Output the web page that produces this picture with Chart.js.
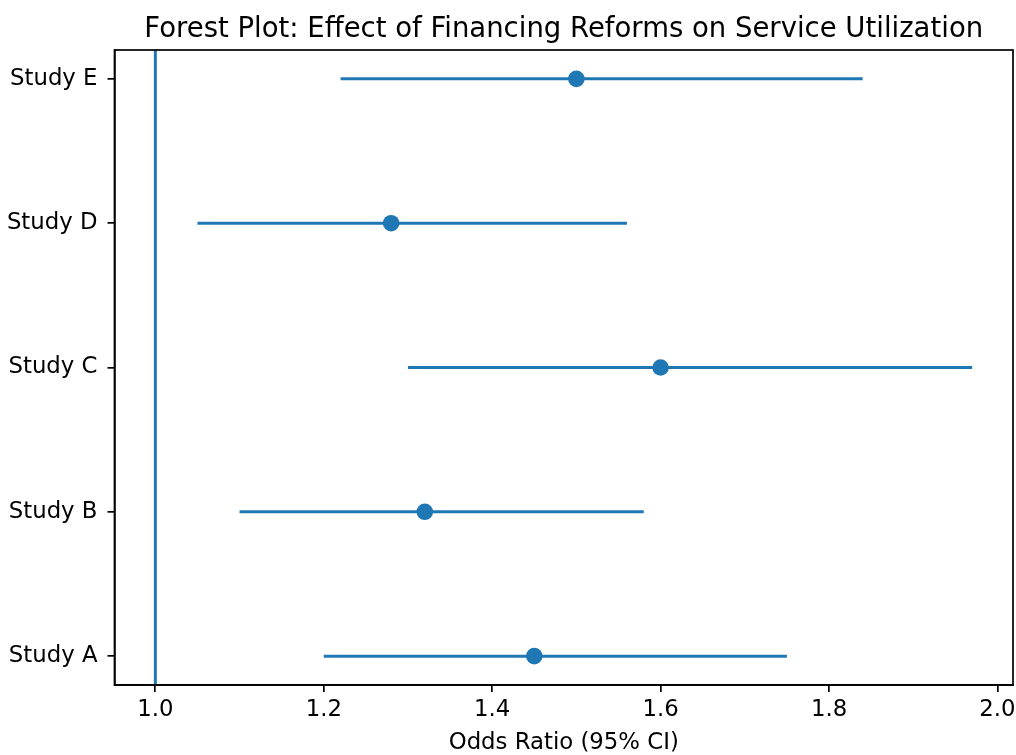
<!DOCTYPE html>
<html>
<head>
<meta charset="utf-8">
<script src="https://cdn.jsdelivr.net/npm/chart.js@4/dist/chart.umd.min.js"></script>
<style>
  body { margin: 0; background: #fff; }
  #wrap { width: 1016px; height: 755px; }
</style>
</head>
<body>
<div id="wrap"><canvas id="forest" width="1016" height="755"></canvas></div>
<script>
// data
const studies = ['Study A', 'Study B', 'Study C', 'Study D', 'Study E'];
const oddsRatio = [1.45, 1.32, 1.60, 1.28, 1.50];
const ciLower = [1.20, 1.10, 1.30, 1.05, 1.22];
const ciUpper = [1.75, 1.58, 1.97, 1.56, 1.84];
const xTicks = [1.0, 1.2, 1.4, 1.6, 1.8, 2.0];
const refLine = 1.0;

const blue = '#1f77b4';
const font = 'DejaVu Sans';
const tickSize = 22.8;

// point estimates first so they sit on top
let datasets = [{
    label: 'Odds Ratio',
    data: oddsRatio.map((v, i) => ({ x: v, y: i })),
    pointRadius: 8.3,
    pointHoverRadius: 8.3,
    pointBackgroundColor: blue,
    pointBorderWidth: 0,
    showLine: false
}];

// one line per confidence interval
studies.forEach((s, i) => {
    datasets.push({
        label: s + ' CI',
        data: [{ x: ciLower[i], y: i }, { x: ciUpper[i], y: i }],
        showLine: true,
        borderColor: blue,
        borderWidth: 3,
        pointRadius: 0
    });
});

// vertical line of no effect
datasets.push({
    label: 'No effect',
    data: [{ x: refLine, y: -0.2 }, { x: refLine, y: 4.2 }],
    showLine: true,
    borderColor: blue,
    borderWidth: 3,
    pointRadius: 0
});

// frame round the plot area, like matplotlib's spines
const frame = {
    id: 'frame',
    afterDatasetsDraw(chart) {
        const a = chart.chartArea;
        const ctx = chart.ctx;
        ctx.save();
        ctx.strokeStyle = '#000';
        ctx.lineWidth = 1.7;
        ctx.strokeRect(a.left, a.top, a.right - a.left, a.bottom - a.top);
        ctx.restore();
    }
};

new Chart(document.getElementById('forest'), {
    type: 'scatter',
    data: { datasets: datasets },
    plugins: [frame],
    options: {
        responsive: false,
        animation: false,
        layout: { autoPadding: false, padding: { left: 0, right: 3, top: 0, bottom: 0 } },
        plugins: {
            legend: { display: false },
            tooltip: { enabled: false }
        },
        scales: {
            // top axis only carries the title, so it centres over the plot area
            top: {
                type: 'linear',
                position: 'top',
                min: 0.9515,
                max: 2.0185,
                afterFit: scale => { scale.height = 50; scale.paddingLeft = 0; scale.paddingRight = 0; },
                ticks: { display: false },
                grid: { display: false },
                border: { display: false },
                title: {
                    display: true,
                    text: 'Forest Plot: Effect of Financing Reforms on Service Utilization',
                    color: '#000',
                    font: { family: font, size: 27.5, lineHeight: 1.2 },
                    padding: { top: 13, bottom: 4 }
                }
            },
            x: {
                type: 'linear',
                min: 0.9515,
                max: 2.0185,
                afterBuildTicks: scale => { scale.ticks = xTicks.map(v => ({ value: v })); },
                afterFit: scale => { scale.height = 70; scale.paddingLeft = 0; scale.paddingRight = 0; },
                ticks: {
                    color: '#000',
                    font: { family: font, size: tickSize },
                    padding: 4,
                    maxRotation: 0,
                    callback: v => v.toFixed(1)
                },
                grid: { drawOnChartArea: false, drawTicks: true, tickLength: 7, color: '#000', lineWidth: 1.7 },
                border: { display: true, color: '#000', width: 1.7 },
                title: {
                    display: true,
                    text: 'Odds Ratio (95% CI)',
                    color: '#000',
                    font: { family: font, size: tickSize, lineHeight: 1.2 },
                    padding: { top: 0, bottom: -2 }
                }
            },
            y: {
                type: 'linear',
                min: -0.2,
                max: 4.2,
                afterBuildTicks: scale => { scale.ticks = studies.map((_, i) => ({ value: i })); },
                afterFit: scale => { scale.width = 114.5; },
                ticks: {
                    color: '#000',
                    font: { family: font, size: tickSize },
                    padding: 10,
                    callback: v => studies[v]
                },
                grid: { drawOnChartArea: false, drawTicks: true, tickLength: 7, color: '#000', lineWidth: 1.7 },
                border: { display: true, color: '#000', width: 1.7 }
            }
        }
    }
});
</script>
</body>
</html>
